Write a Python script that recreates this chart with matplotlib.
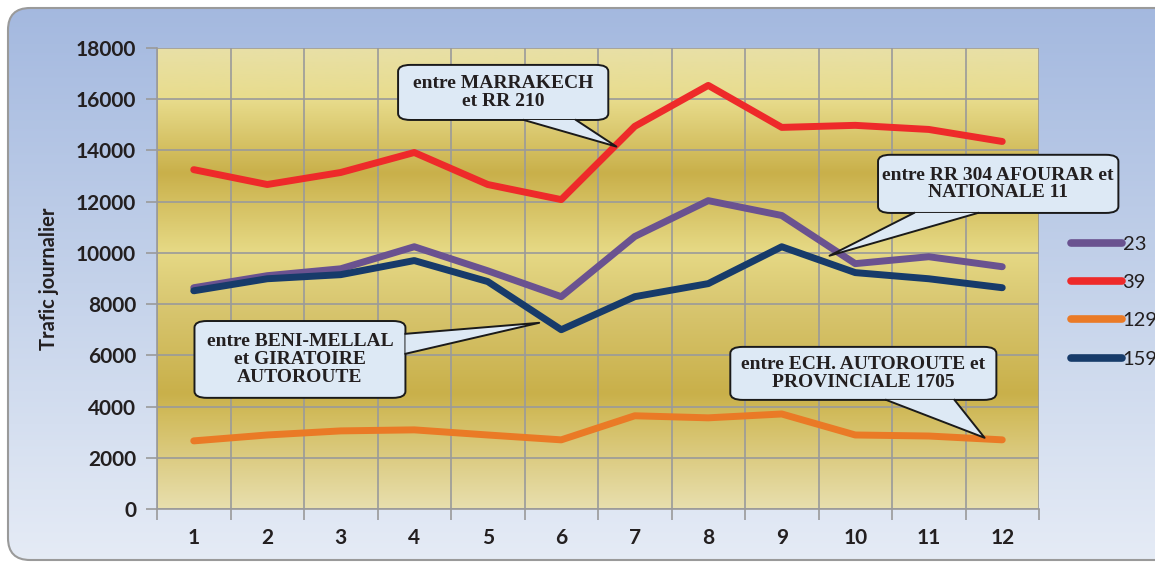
import numpy as np
import matplotlib
matplotlib.use('Agg')
import matplotlib.pyplot as plt
from matplotlib.colors import LinearSegmentedColormap
from matplotlib.patches import FancyBboxPatch, Polygon

# data
months = list(range(1, 13))
s23 = [8640, 9110, 9380, 10240, 9300, 8290, 10640, 12040, 11460, 9580, 9850, 9460]
s39 = [13250, 12670, 13140, 13920, 12670, 12080, 14940, 16540, 14900, 14980, 14820, 14350]
s129 = [2660, 2890, 3050, 3090, 2890, 2700, 3640, 3560, 3710, 2890, 2850, 2700]
s159 = [8520, 8990, 9150, 9700, 8880, 7000, 8290, 8800, 10240, 9230, 8990, 8640]
series_names = ['23', '39', '129', '159']
series_colors = ['#6a5290', '#ee2a2a', '#ea7a26', '#173b6a']
yticks = [0, 2000, 4000, 6000, 8000, 10000, 12000, 14000, 16000, 18000]

# callouts: text, box (x0, x1, y0, y1) in data units, tail base points, tip
callouts = [
    ("entre MARRAKECH\net RR 210", (3.78, 6.64, 15190, 17340),
     [(5.49, 15190), (6.20, 15190)], (6.75, 14150)),
    ("entre RR 304 AFOURAR et\nNATIONALE 11", (10.31, 13.58, 11560, 13830),
     [(10.80, 11560), (11.67, 11560)], (9.65, 9890)),
    ("entre BENI-MELLAL\net GIRATOIRE\nAUTOROUTE", (1.01, 3.88, 4340, 7340),
     [(3.88, 6840), (3.88, 6060)], (5.70, 7270)),
    ("entre ECH. AUTOROUTE et\nPROVINCIALE 1705", (8.30, 11.92, 4260, 6330),
     [(10.42, 4260), (11.35, 4260)], (11.76, 2780)),
]

fig = plt.figure(figsize=(11.55, 5.66), dpi=100)

# outer blue rounded panel
bg = fig.add_axes([0, 0, 1, 1])
bg.set_xlim(0, 1155)
bg.set_ylim(566, 0)
bg.axis('off')
bgcmap = LinearSegmentedColormap.from_list('bg', ['#a3b8df', '#c4d2ea', '#e6ecf6'])
im = bg.imshow(np.linspace(0, 1, 256).reshape(-1, 1), cmap=bgcmap, aspect='auto',
               extent=[0, 1155, 566, 0])
panel = FancyBboxPatch((8, 8), 1180, 552, boxstyle='round,pad=0,rounding_size=22',
                       fc='none', ec='#9a9a9a', lw=1.5)
bg.add_patch(panel)
im.set_clip_path(panel)

ax = fig.add_axes([157 / 1155, 57 / 566, 882 / 1155, 461 / 566])
ax.set_xlim(0.5, 12.5)
ax.set_ylim(0, 18000)

# gold gradient plot area
plotcmap = LinearSegmentedColormap.from_list('gold', [
    (0.0, '#e8e0a6'), (0.11, '#e8dc8c'), (0.27, '#c9b04a'), (0.44, '#e6d985'),
    (0.56, '#d8c670'), (0.75, '#c9b04a'), (0.80, '#d2bc5e'), (1.0, '#e8dfae')])
ax.imshow(np.linspace(0, 1, 256).reshape(-1, 1), cmap=plotcmap, aspect='auto',
          extent=[0.5, 12.5, 0, 18000], zorder=0)

line_kw = dict(lw=5, solid_capstyle='round', solid_joinstyle='round', zorder=3)
ax.plot(months, s23, color=series_colors[0], **line_kw)
ax.plot(months, s39, color=series_colors[1], **line_kw)
ax.plot(months, s129, color=series_colors[2], **line_kw)
ax.plot(months, s159, color=series_colors[3], **line_kw)

ax.set_yticks(yticks)
ax.set_xticks(months)
ax.set_xticks(np.arange(0.5, 13, 1), minor=True)
ax.grid(True, which='major', axis='y', color='#9a9a9a', lw=1.2, zorder=1)
ax.grid(True, which='minor', axis='x', color='#9a9a9a', lw=1.2, zorder=1)
ax.tick_params(axis='x', which='major', length=0, pad=14)
ax.tick_params(axis='x', which='minor', length=8, color='#9a9a9a', width=1.2)
ax.tick_params(axis='y', length=8, color='#9a9a9a', width=1.2, pad=7)
for lab in ax.get_xticklabels() + ax.get_yticklabels():
    lab.set_fontfamily('Lato')
    lab.set_fontweight('bold')
    lab.set_fontsize(15)
    lab.set_color('#231f20')
for side in ['top', 'right']:
    ax.spines[side].set_visible(False)
ax.spines['left'].set_color('#9a9a9a')
ax.spines['left'].set_linewidth(1.2)
ax.spines['bottom'].set_color('#9a9a9a')
ax.spines['bottom'].set_linewidth(1.2)

ax.set_ylabel('Trafic journalier', fontfamily='Lato', fontweight='bold', fontsize=14.5,
              color='#231f20', labelpad=12)

# callouts
for text, (x0, x1, y0, y1), base, tip in callouts:
    box = FancyBboxPatch((x0, y0), x1 - x0, y1 - y0,
                         boxstyle='round,pad=0,rounding_size=0.17', mutation_aspect=1500,
                         fc='#dde9f5', ec='#1a1a1a', lw=1.4, zorder=5, clip_on=False)
    ax.add_patch(box)
    ax.add_patch(Polygon([base[0], tip, base[1]], closed=True, fc='#dde9f5', ec='none',
                         zorder=6, clip_on=False))
    ax.plot([base[0][0], tip[0], base[1][0]], [base[0][1], tip[1], base[1][1]],
            color='#1a1a1a', lw=1.4, zorder=7, clip_on=False)
    ax.text((x0 + x1) / 2, (y0 + y1) / 2, text, ha='center', va='center',
            fontfamily='Liberation Serif', fontweight='bold', fontsize=14,
            color='#231f20', linespacing=1.05, zorder=8, clip_on=False)

leg = ax.legend([plt.Line2D([], [], color=c, lw=5.5, solid_capstyle='round') for c in series_colors],
                series_names, loc='upper left', bbox_to_anchor=(1.016, 0.632), frameon=False,
                handlelength=2.5, handletextpad=0.05, labelspacing=1.05,
                prop={'family': 'Lato', 'size': 14.5})
for t in leg.get_texts():
    t.set_color('#231f20')

fig.savefig('out.png', dpi=100)
